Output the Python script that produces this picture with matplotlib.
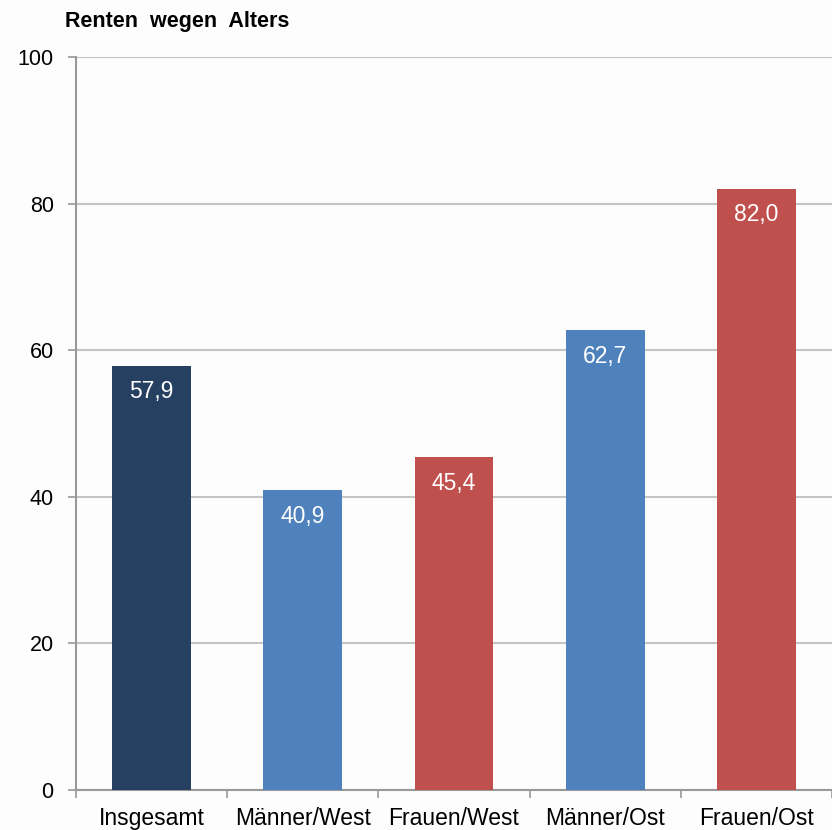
import matplotlib
matplotlib.use("Agg")
import matplotlib.pyplot as plt
import numpy as np

# data
categories = ["Insgesamt", "Männer/West", "Frauen/West", "Männer/Ost", "Frauen/Ost"]
values = [57.9, 40.9, 45.4, 62.7, 82.0]
colors = ["#264061", "#4F81BD", "#C0504D", "#4F81BD", "#C0504D"]
yticks = [0, 20, 40, 60, 80, 100]

plt.rcParams["font.family"] = ["Liberation Sans", "DejaVu Sans"]

fig = plt.figure(figsize=(8.32, 8.30), dpi=100)
fig.patch.set_facecolor("#FDFDFD")
ax = fig.add_axes([0.0913, 0.0482, 0.9087, 0.8831])
ax.set_facecolor("#FDFDFD")

x = np.arange(len(categories))
ax.bar(x, values, width=0.52, color=colors, zorder=3)

for xi, v in zip(x, values):
    ax.annotate(f"{v:.1f}".replace(".", ","), (xi, v), xytext=(0, -26),
                textcoords="offset pixels",
                ha="center", va="center", color="white", fontsize=16.5, zorder=4)

ax.set_xlim(-0.5, len(categories) - 0.5)
ax.set_ylim(0, 100)
ax.set_yticks(yticks)
ax.set_yticklabels([str(t) for t in yticks], fontsize=15.5)
ax.yaxis.grid(True, color="#C4C4C4", linewidth=1.5, zorder=0)
ax.tick_params(axis="y", length=6, width=1.2, color="#999999", pad=10)

# category ticks at boundaries, labels at centres
ax.set_xticks(np.arange(len(categories) + 1) - 0.5)
ax.set_xticklabels([])
ax.set_xticks(x, minor=True)
ax.set_xticklabels(categories, minor=True, fontsize=16.5)
ax.tick_params(axis="x", which="major", length=6, width=1.2, color="#999999")
ax.tick_params(axis="x", which="minor", length=0, pad=12)

for s in ["top", "right"]:
    ax.spines[s].set_visible(False)
for s in ["left", "bottom"]:
    ax.spines[s].set_color("#999999")
    ax.spines[s].set_linewidth(1.5)

fig.text(0.0781, 0.968, "Renten  wegen  Alters", fontsize=15.5, fontweight="bold",
         ha="left", va="baseline")

fig.savefig("out.png", dpi=100, facecolor=fig.get_facecolor())
